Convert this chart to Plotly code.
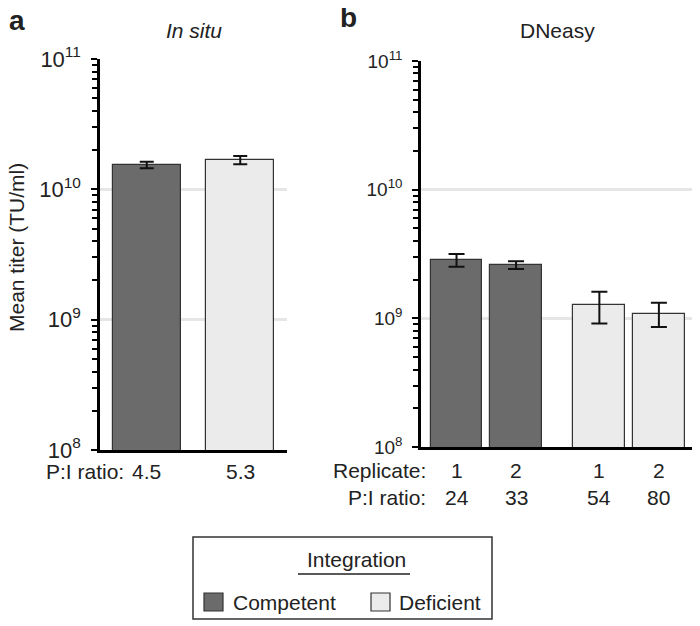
import plotly.graph_objects as go

# ---------------- data ----------------
a_groups = ["Competent", "Deficient"]
a_ratio = ["4.5", "5.3"]
a_titer = [1.53e10, 1.68e10]
a_err_hi = [1.63e10, 1.80e10]
a_err_lo = [1.45e10, 1.56e10]

b_groups = ["Competent", "Competent", "Deficient", "Deficient"]
b_replicate = ["1", "2", "1", "2"]
b_ratio = ["24", "33", "54", "80"]
b_titer = [2.84e9, 2.61e9, 1.27e9, 1.09e9]
b_err_hi = [3.16e9, 2.78e9, 1.61e9, 1.32e9]
b_err_lo = [2.52e9, 2.42e9, 0.91e9, 0.855e9]

y_tickvals = [1e8, 1e9, 1e10, 1e11]
y_ticktext = ["10<sup>8</sup>", "10<sup>9</sup>", "10<sup>10</sup>", "10<sup>11</sup>"]

# ---------------- style / layout ----------------
W, H = 700, 626
OFF = 8  # page body margin offset
FONT = "Liberation Sans, Arial, Helvetica, sans-serif"
TXT = "#222222"
colors = {"Competent": "#6b6b6b", "Deficient": "#ebebeb"}
a_pos = [0, 1]
b_pos = [0, 1, 2.4, 3.4]


def px(x):
    return (x - OFF) / W


def py(y):
    return 1 - (y - OFF) / H


fig = go.Figure()

fig.add_trace(go.Bar(
    x=a_pos, y=a_titer, width=0.73,
    marker=dict(color=[colors[g] for g in a_groups], line=dict(color="#333333", width=1.2)),
    error_y=dict(type="data", symmetric=False,
                 array=[h - v for h, v in zip(a_err_hi, a_titer)],
                 arrayminus=[v - l for l, v in zip(a_err_lo, a_titer)],
                 color="#111111", thickness=2, width=7),
    xaxis="x", yaxis="y", showlegend=False, hoverinfo="skip"))

fig.add_trace(go.Bar(
    x=b_pos, y=b_titer, width=0.87,
    marker=dict(color=[colors[g] for g in b_groups], line=dict(color="#333333", width=1.2)),
    error_y=dict(type="data", symmetric=False,
                 array=[h - v for h, v in zip(b_err_hi, b_titer)],
                 arrayminus=[v - l for l, v in zip(b_err_lo, b_titer)],
                 color="#111111", thickness=2, width=8),
    xaxis="x2", yaxis="y2", showlegend=False, hoverinfo="skip"))


def yaxis_cfg(domain, anchor, size):
    return dict(
        type="log", range=[8, 11], domain=domain, anchor=anchor, automargin=False,
        tickmode="array", tickvals=y_tickvals, ticktext=y_ticktext,
        ticks="outside", ticklen=6, tickwidth=2, tickcolor="black",
        showline=True, linecolor="black", linewidth=2.5,
        showgrid=True, gridcolor="#e6e6e6", gridwidth=2.5,
        zeroline=False, ticklabelstandoff=6,
        tickfont=dict(family=FONT, size=size, color=TXT),
        minor=dict(ticks="outside", ticklen=5, tickwidth=1.8, tickcolor="black",
                   dtick="D1", showgrid=False),
    )


def xaxis_cfg(domain, anchor, rng):
    return dict(
        domain=domain, anchor=anchor, range=rng, automargin=False,
        showticklabels=False, ticks="", showgrid=False, zeroline=False,
        showline=True, linecolor="black", linewidth=2.5,
    )


fig.update_layout(
    template="none",
    width=W, height=H,
    margin=dict(l=0, r=0, t=0, b=0, pad=0, autoexpand=False),
    paper_bgcolor="white", plot_bgcolor="white",
    font=dict(family=FONT, color=TXT),
    bargap=0,
    xaxis=xaxis_cfg([px(100), px(287)], "y", [-0.5, 1.5]),
    yaxis=yaxis_cfg([py(450), py(59)], "x", 22),
    xaxis2=xaxis_cfg([px(421), px(694)], "y2", [-0.597, 3.99]),
    yaxis2=yaxis_cfg([py(447), py(61)], "x2", 19),
)

ann = []


def add_text(text, x, y, size=21, xref="paper", xanchor="center", **kw):
    ann.append(dict(text=text, x=x, y=py(y), xref=xref, yref="paper",
                    xanchor=xanchor, yanchor="middle", showarrow=False,
                    font=dict(size=size, family=FONT, color=TXT), **kw))


# panel letters
add_text("<b>a</b>", px(17), 20, size=28)
add_text("<b>b</b>", px(348), 17, size=28)
# panel titles
add_text("<i>In situ</i>", px(194), 31)
add_text("DNeasy", px(557), 31)
# y title
add_text("Mean titer (TU/ml)", px(16), 248, textangle=-90)

# bottom labels panel a
add_text("P:I ratio:", px(126), 471, xanchor="right")
for p, r in zip(a_pos, a_ratio):
    add_text(r, p, 471, xref="x")

# bottom labels panel b
add_text("Replicate:", px(428), 470, xanchor="right")
add_text("P:I ratio:", px(428), 498, xanchor="right")
for p, rep, r in zip(b_pos, b_replicate, b_ratio):
    add_text(rep, p, 470, xref="x2")
    add_text(r, p, 498, xref="x2")

# legend (manual)
shapes = []
shapes.append(dict(type="rect", xref="paper", yref="paper",
                   x0=px(193), x1=px(492), y0=py(619), y1=py(537),
                   line=dict(color="#333333", width=1.5), fillcolor="white"))
shapes.append(dict(type="line", xref="paper", yref="paper",
                   x0=px(298), x1=px(410), y0=py(574), y1=py(574),
                   line=dict(color="#222222", width=1.5)))
add_text("Integration", px(356), 559)
legend_items = [("Competent", 204, 231), ("Deficient", 371, 397)]
for name, sx, tx in legend_items:
    shapes.append(dict(type="rect", xref="paper", yref="paper",
                       x0=px(sx), x1=px(sx + 19), y0=py(611), y1=py(593),
                       line=dict(color="#333333", width=1.2), fillcolor=colors[name]))
    add_text(name, px(tx), 602, xanchor="left")

fig.update_layout(annotations=ann, shapes=shapes)

fig.write_html("out.html")
